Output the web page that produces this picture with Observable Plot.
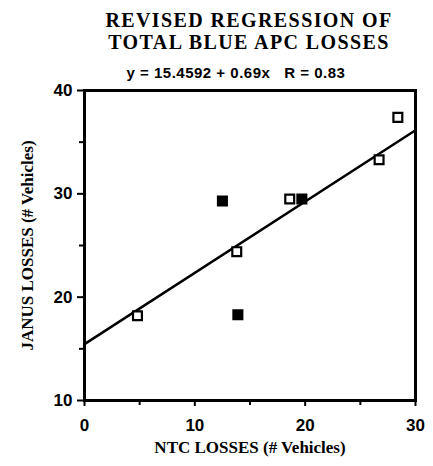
<!DOCTYPE html>
<html><head><meta charset="utf-8">
<script src="https://cdn.jsdelivr.net/npm/d3@7"></script>
<script src="https://cdn.jsdelivr.net/npm/@observablehq/plot@0.6"></script>
<style>
body{margin:0;background:#fff;}
#wrap{width:433px;position:relative;}
#head{position:absolute;left:0;top:0;width:433px;height:86px;}
.t{position:absolute;white-space:nowrap;transform:translateX(-50%);color:#000;}
.ttl{font-family:"Liberation Serif","Times New Roman",serif;font-weight:bold;font-size:20px;line-height:22.5px;letter-spacing:1.4px;left:249px;text-align:center;}
.sub{font-family:"Liberation Sans",Arial,sans-serif;font-weight:bold;font-size:15px;line-height:15px;letter-spacing:0.5px;left:236px;top:65px;}
</style></head><body>
<div id="wrap">
<div id="chart"></div>
<div id="head">
<div class="t ttl" style="top:8.5px">REVISED REGRESSION OF</div>
<div class="t ttl" style="top:31px">TOTAL BLUE APC LOSSES</div>
<div class="t sub">y = 15.4592 + 0.69x&nbsp;&nbsp;&nbsp;R = 0.83</div>
</div>
</div>
<script>
// NTC losses (x) and JANUS losses (y)
const ntcLosses   = [4.8, 12.5, 13.8, 13.9, 18.6, 19.7, 26.7, 28.4];
const janusLosses = [18.2, 29.3, 24.4, 18.3, 29.5, 29.5, 33.3, 37.4];
const markerFilled = [false, true, false, true, false, true, false, false];

// regression as stated in the subtitle
const intercept = 15.4592;
const slope = 0.69;

const xDomain = [0, 30];
const yDomain = [10, 40];
const xMajorTicks = [0, 10, 20, 30];
const xMinorTicks = [5, 15, 25];
const yMajorTicks = [10, 20, 30, 40];
const yMinorTicks = [15, 25, 35];

const xLabel = "NTC LOSSES (# Vehicles)";
const yLabel = "JANUS LOSSES (# Vehicles)";

const points = ntcLosses.map((x, i) => ({x, y: janusLosses[i], fill: markerFilled[i] ? "black" : "white"}));
const fitLine = xDomain.map(x => ({x, y: intercept + slope * x}));

const sans = "Liberation Sans, Arial, sans-serif";
const serif = "Liberation Serif, Times New Roman, serif";

const chart = Plot.plot({
  width: 433,
  height: 466,
  marginTop: 90,
  marginLeft: 84,
  marginRight: 18,
  marginBottom: 66,
  style: {fontFamily: sans, fontSize: "17px", fontWeight: "bold", color: "black", background: "white", display: "block"},
  x: {domain: xDomain},
  y: {domain: yDomain},
  color: {type: "identity"},
  marks: [
    Plot.axisX({ticks: xMajorTicks, tickSize: 6, tickPadding: 12, strokeWidth: 2, fontSize: 17, fontWeight: "bold", fontFamily: sans, label: null}),
    Plot.axisX({ticks: xMinorTicks, tickSize: 5, tickFormat: () => "", strokeWidth: 2, label: null}),
    Plot.axisY({ticks: yMajorTicks, tickSize: 7, tickPadding: 5, strokeWidth: 2, fontSize: 17, fontWeight: "bold", fontFamily: sans, label: null}),
    Plot.axisY({ticks: yMinorTicks, tickSize: 5, tickFormat: () => "", strokeWidth: 2, label: null}),
    Plot.frame({stroke: "black", strokeWidth: 3}),
    Plot.line(fitLine, {x: "x", y: "y", stroke: "black", strokeWidth: 2.5}),
    Plot.dot(points, {x: "x", y: "y", symbol: "square", r: 5, stroke: "black", strokeWidth: 2.2, fill: "fill"}),
    Plot.text([yLabel], {frameAnchor: "left", dx: -57, rotate: -90, textAnchor: "middle", lineAnchor: "middle", fontSize: 17, fontWeight: "bold", fontFamily: serif}),
    Plot.text([xLabel], {frameAnchor: "bottom", dy: 47, textAnchor: "middle", lineAnchor: "middle", fontSize: 17, fontWeight: "bold", fontFamily: serif})
  ]
});
document.getElementById("chart").appendChild(chart);
</script>
</body></html>
